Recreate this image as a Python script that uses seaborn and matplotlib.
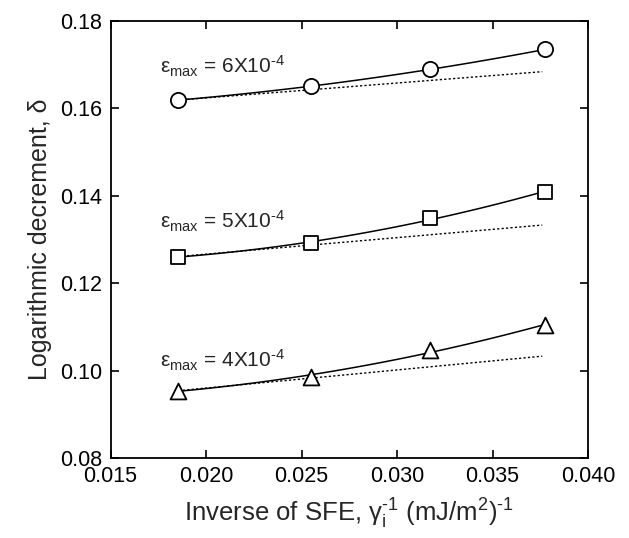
import pandas as pd
import matplotlib.pyplot as plt
import seaborn as sns

# data
inv_sfe = [0.01855, 0.0255, 0.0317, 0.03775]
delta_6 = [0.1619, 0.1651, 0.1689, 0.1735]
delta_5 = [0.1261, 0.1291, 0.1349, 0.1409]
delta_4 = [0.0954, 0.0986, 0.1046, 0.1104]

# dotted reference lines (start / end)
dot_x = [0.01855, 0.0376]
dot_6 = [0.1619, 0.1684]
dot_5 = [0.1261, 0.1333]
dot_4 = [0.0954, 0.1033]

labels = [r"6X10$^{\text{-4}}$", r"5X10$^{\text{-4}}$", r"4X10$^{\text{-4}}$"]
label_y = [0.1695, 0.1341, 0.1024]
markers = ["o", "s", "^"]
sizes = [120, 110, 130]

sns.set_theme(style="ticks")
plt.rcParams["font.family"] = ["Liberation Sans", "DejaVu Sans"]
plt.rcParams["mathtext.fontset"] = "custom"
plt.rcParams["mathtext.rm"] = "Liberation Sans"
plt.rcParams["mathtext.it"] = "Liberation Sans:italic"

fig = plt.figure(figsize=(6.29, 5.38), dpi=100)
ax = fig.add_axes([0.1757, 0.1487, 0.7593, 0.8123])

series = [delta_6, delta_5, delta_4]
dots = [dot_6, dot_5, dot_4]

for ys, dy, mk, sz, lab, ly in zip(series, dots, markers, sizes, labels, label_y):
    df = pd.DataFrame({"x": inv_sfe, "y": ys})
    sns.regplot(data=df, x="x", y="y", order=2, ci=None, scatter=False,
                color="black", line_kws={"linewidth": 1.1}, ax=ax)
    sns.lineplot(x=dot_x, y=dy, color="black", linewidth=1.0,
                 dashes=False, ax=ax).lines[-1].set_dashes([1.6, 1.6])
    sns.scatterplot(data=df, x="x", y="y", marker=mk, s=sz,
                    facecolor="white", edgecolor="black", linewidth=1.3,
                    zorder=5, ax=ax)
    ax.text(0.0176, ly, r"ε$_{\rm max}$ = " + lab, fontsize=15,
            ha="left", va="center")

ax.set_xlim(0.015, 0.040)
ax.set_ylim(0.08, 0.18)
ax.set_xticks([0.015, 0.020, 0.025, 0.030, 0.035, 0.040])
ax.set_yticks([0.08, 0.10, 0.12, 0.14, 0.16, 0.18])
ax.set_xticklabels(["0.015", "0.020", "0.025", "0.030", "0.035", "0.040"])
ax.set_yticklabels(["0.08", "0.10", "0.12", "0.14", "0.16", "0.18"])
ax.tick_params(direction="in", length=6, width=1.2, top=True, right=True,
               labelsize=15.5, colors="black", pad=6)

for sp in ax.spines.values():
    sp.set_linewidth(1.3)
    sp.set_color("black")

ax.set_xlabel(r"Inverse of SFE, γ$_{\rm i}^{\text{-1}}$ (mJ/m$^{\rm 2}$)$^{\text{-1}}$",
              fontsize=18.5, labelpad=7)
ax.set_ylabel("Logarithmic decrement, δ", fontsize=18, labelpad=6)

plt.savefig("out.png", dpi=100)
